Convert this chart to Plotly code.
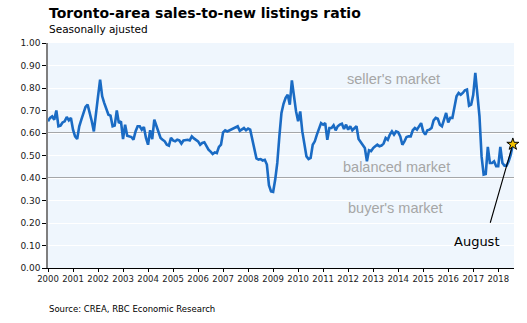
import plotly.graph_objects as go

# Monthly sales-to-new listings ratio, Jan 2000 .. Aug 2018
y2000 = [0.652, 0.667, 0.674, 0.659, 0.700, 0.630, 0.633, 0.647, 0.652, 0.671, 0.656, 0.667]
y2001 = [0.615, 0.585, 0.573, 0.630, 0.659, 0.689, 0.716, 0.726, 0.692, 0.652, 0.607, 0.696]
y2002 = [0.763, 0.837, 0.763, 0.733, 0.711, 0.681, 0.677, 0.630, 0.633, 0.700, 0.644, 0.652]
y2003 = [0.573, 0.637, 0.588, 0.585, 0.582, 0.570, 0.607, 0.630, 0.630, 0.615, 0.627, 0.578]
y2004 = [0.548, 0.612, 0.573, 0.659, 0.633, 0.607, 0.578, 0.570, 0.563, 0.548, 0.544, 0.578]
y2005 = [0.567, 0.563, 0.570, 0.567, 0.553, 0.567, 0.570, 0.570, 0.567, 0.585, 0.576, 0.570]
y2006 = [0.563, 0.548, 0.556, 0.559, 0.541, 0.526, 0.517, 0.507, 0.514, 0.511, 0.538, 0.548]
y2007 = [0.603, 0.612, 0.607, 0.612, 0.615, 0.619, 0.627, 0.630, 0.610, 0.615, 0.622, 0.612]
y2008 = [0.620, 0.615, 0.570, 0.522, 0.487, 0.482, 0.484, 0.478, 0.481, 0.460, 0.368, 0.340]
y2009 = [0.338, 0.393, 0.467, 0.585, 0.689, 0.730, 0.756, 0.770, 0.726, 0.834, 0.763, 0.696]
y2010 = [0.652, 0.696, 0.607, 0.556, 0.496, 0.484, 0.489, 0.548, 0.563, 0.593, 0.622, 0.644]
y2011 = [0.637, 0.644, 0.570, 0.622, 0.622, 0.634, 0.612, 0.630, 0.637, 0.641, 0.618, 0.637]
y2012 = [0.615, 0.630, 0.612, 0.622, 0.630, 0.573, 0.559, 0.544, 0.533, 0.474, 0.523, 0.519]
y2013 = [0.533, 0.541, 0.548, 0.541, 0.544, 0.553, 0.578, 0.570, 0.593, 0.607, 0.593, 0.607]
y2014 = [0.603, 0.585, 0.548, 0.563, 0.582, 0.585, 0.585, 0.612, 0.622, 0.615, 0.630, 0.644]
y2015 = [0.607, 0.593, 0.612, 0.615, 0.622, 0.656, 0.667, 0.663, 0.637, 0.630, 0.659, 0.689]
y2016 = [0.647, 0.667, 0.667, 0.711, 0.763, 0.778, 0.770, 0.778, 0.790, 0.793, 0.721, 0.726]
y2017 = [0.770, 0.867, 0.778, 0.674, 0.496, 0.415, 0.418, 0.538, 0.467, 0.467, 0.474, 0.452]
y2018 = [0.452, 0.538, 0.467, 0.455, 0.455, 0.474, 0.504, 0.550]

values = (y2000 + y2001 + y2002 + y2003 + y2004 + y2005 + y2006 + y2007 + y2008 +
          y2009 + y2010 + y2011 + y2012 + y2013 + y2014 + y2015 + y2016 + y2017 + y2018)
x_time = [2000 + i / 12 for i in range(len(values))]

year_ticks = list(range(2000, 2019))
year_labels = [str(y) for y in year_ticks]
y_ticks = [i / 10 for i in range(11)]
y_labels = [f"{v:.2f}" for v in y_ticks]

fig = go.Figure()
fig.add_trace(go.Scatter(
    x=x_time, y=values, mode="lines",
    line=dict(color="#1A6BC4", width=2.6),
    hoverinfo="skip", showlegend=False,
))
fig.add_trace(go.Scatter(
    x=[x_time[-1]], y=[values[-1]], mode="markers",
    marker=dict(symbol="star", size=9, color="#F5C400",
                line=dict(color="#000000", width=1)),
    showlegend=False, cliponaxis=False,
))

# reference lines at 0.4 and 0.6
for lvl in (0.4, 0.6):
    fig.add_shape(type="line", xref="paper", x0=0, x1=1, yref="y", y0=lvl, y1=lvl,
                  line=dict(color="#8C8C8C", width=1.3), layer="below")

zone_font = dict(family="Liberation Sans, Arial, sans-serif", size=14.5, color="#A6A6A6")
fig.add_annotation(x=2013.8, y=0.84, text="seller's market", showarrow=False, font=zone_font)
fig.add_annotation(x=2013.95, y=0.45, text="balanced market", showarrow=False, font=zone_font)
fig.add_annotation(x=2013.9, y=0.265, text="buyer's market", showarrow=False, font=zone_font)

fig.add_annotation(x=x_time[-1], y=values[-1], text="", showarrow=True,
                   arrowhead=0, arrowwidth=1.1, arrowcolor="#000000",
                   ax=-23, ay=80, standoff=4)
fig.add_annotation(x=2017.15, y=0.118, text="August", showarrow=False,
                   font=dict(family="DejaVu Sans, sans-serif", size=13, color="#000000"))

fig.add_annotation(xref="paper", yref="paper", x=-0.003, y=1.0, yshift=30,
                   xanchor="left", yanchor="middle", showarrow=False,
                   text="<b>Toronto-area sales-to-new listings ratio</b>",
                   font=dict(family="DejaVu Sans, sans-serif", size=14, color="#000000"))
fig.add_annotation(xref="paper", yref="paper", x=-0.003, y=1.0, yshift=14,
                   xanchor="left", yanchor="middle", showarrow=False,
                   text="Seasonally ajusted",
                   font=dict(family="DejaVu Sans, sans-serif", size=10.5, color="#000000"))
fig.add_annotation(xref="paper", yref="paper", x=-0.003, y=0, yshift=-41,
                   xanchor="left", yanchor="middle", showarrow=False,
                   text="Source: CREA, RBC Economic Research",
                   font=dict(family="DejaVu Sans, sans-serif", size=8.5, color="#000000"))

fig.update_layout(
    width=527, height=323,
    margin=dict(l=48, r=13, t=43, b=55),
    paper_bgcolor="#FFFFFF", plot_bgcolor="#EFF6FD",
    font=dict(family="DejaVu Sans, sans-serif", size=9, color="#1A1A1A"),
    xaxis=dict(range=[2000, 2018.63], tickmode="array", tickvals=year_ticks,
               ticktext=year_labels, showgrid=False, zeroline=False,
               showline=True, linecolor="#000000", linewidth=1,
               ticks="outside", ticklen=3, tickcolor="#000000",
               tickfont=dict(size=8.5)),
    yaxis=dict(range=[0, 1], tickmode="array", tickvals=y_ticks, ticktext=y_labels,
               showgrid=True, gridcolor="#FFFFFF", gridwidth=1.2, zeroline=False,
               showline=True, linecolor="#7F7F7F", linewidth=1.5,
               ticks="outside", ticklen=4, tickcolor="#000000",
               tickfont=dict(size=9)),
)

fig.write_html("out.html")
